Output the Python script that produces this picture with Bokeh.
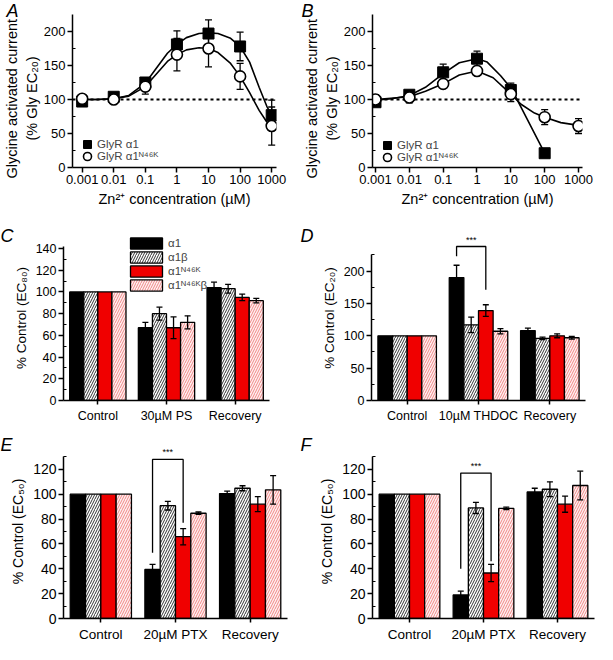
from bokeh.plotting import figure
from bokeh.models import (ColumnDataSource, Whisker, TeeHead, FixedTicker,
                          CustomJSTickFormatter, Range1d, Legend, LegendItem, Span, Title)
from bokeh.layouts import column, row
from bokeh.embed import file_html
from bokeh.resources import INLINE
from bokeh.core.properties import value

FONT = "Liberation Sans"

zn_conc = [0.001, 0.01, 0.1, 1, 10, 100, 1000]

A_wt = [97, 104, 125, 181, 197, 178, 77]
A_wt_err = [4, 3, 5, 20, 20, 21, 22]
A_mut = [101, 100, 119, 166, 175, 134, 61]
A_mut_err = [3, 5, 11, 24, 27, 19, 28]
A_fit_x = [0.001, 0.003, 0.01, 0.03, 0.1, 0.2, 0.5, 1, 2, 5, 10, 20, 50, 100, 200, 400, 700, 1000]
A_fit_wt = [100, 100, 101, 106, 124, 143, 168, 181, 191, 197, 198, 197, 190, 178, 155, 118, 90, 77]
A_fit_mut = [100, 100, 101, 105, 119, 135, 156, 166, 173, 176, 175, 169, 153, 134, 110, 84, 67, 61]

B_wt_x = [0.001, 0.01, 0.1, 1, 10, 100]
B_wt = [96, 107, 140, 160, 114, 21]
B_wt_err = [3, 4, 12, 11, 10, 2]
B_mut = [100, 103, 123, 142, 108, 74, 61]
B_mut_err = [7, 8, 6, 5, 11, 11, 11]
B_fit_wt_x = [0.001, 0.003, 0.01, 0.03, 0.1, 0.3, 1, 2, 5, 10, 12, 100]
B_fit_wt = [99, 101, 106, 118, 138, 154, 160, 155, 135, 117, 110, 21]
B_fit_mut_x = [0.001, 0.01, 0.03, 0.1, 0.3, 1, 3, 10, 20, 50, 100, 300, 1000]
B_fit_mut = [100, 104, 112, 123, 136, 142, 132, 108, 93, 80, 74, 66, 62]

zn_ticks = [0.001, 0.01, 0.1, 1, 10, 100, 1000]
resp_ticks = [0, 50, 100, 150, 200]
resp_minor = [25, 75, 125, 175]
# y-axis title lines (outer, inner) and their start offsets along the axis
zn_ylabel_lines = [("Glycine activated current", -11), ("(% Gly EC₂₀)", 27)]

series_names = ["α1", "α1β", "α1ᴺ⁴⁶ᴷ", "α1ᴺ⁴⁶ᴷβ"]

C_cats = ["Control", "30µM PS", "Recovery"]
C_vals = [[100, 67, 104], [100, 80, 103], [100, 67, 95], [100, 72, 92]]
C_errs = [[0, 5, 5], [0, 6, 4], [0, 10, 3], [0, 6, 2]]

D_cats = ["Control", "10µM THDOC", "Recovery"]
D_vals = [[100, 190, 108], [100, 117, 96], [100, 139, 100], [100, 107, 97]]
D_errs = [[0, 19, 4], [0, 12, 2], [0, 9, 3], [0, 4, 2]]
D_bracket = dict(top=238, left_end=223, right_end=171)

E_cats = ["Control", "20µM PTX", "Recovery"]
E_vals = [[100, 39.5, 100.5], [100, 90.8, 104.8], [100, 65.8, 92], [100, 84.7, 103.5]]
E_errs = [[0, 4, 2], [0, 3.5, 2], [0, 6.5, 6], [0, 1, 11.5]]
E_bracket = dict(top=128, left_end=53, right_end=77)

F_cats = ["Control", "20µM PTX", "Recovery"]
F_vals = [[100, 19, 101.8], [100, 89, 104], [100, 36.6, 92], [100, 88.6, 107]]
F_errs = [[0, 3, 3], [0, 4.5, 6], [0, 7, 6.5], [0, 1, 11.5]]
F_bracket = dict(top=117, left_end=40, right_end=46)

BW = 0.205
OFFS = [(k - 1.5) * BW for k in range(4)]
SERIES_STYLE = [
    dict(fill_color="black"),
    dict(fill_color="white", hatch_pattern="/", hatch_color="#333333", hatch_scale=5, hatch_weight=1),
    dict(fill_color="#f00000"),
    dict(fill_color="#fff0f0", hatch_pattern="/", hatch_color="#f08888", hatch_scale=5, hatch_weight=1),
]


def style_axes(p, tick_fs, lab_fs):
    for ax in p.axis:
        ax.axis_line_width = 1.5
        ax.axis_line_color = "black"
        ax.major_tick_line_width = 1.5
        ax.major_tick_line_color = "black"
        ax.minor_tick_line_width = 1.2
        ax.minor_tick_line_color = "black"
        ax.major_tick_in = 0
        ax.major_tick_out = 5
        ax.minor_tick_in = 3
        ax.minor_tick_out = 0
        ax.major_label_standoff = 2
        ax.major_label_text_font = FONT
        ax.major_label_text_font_size = tick_fs
        ax.major_label_text_color = "black"
        ax.axis_label_text_font = FONT
        ax.axis_label_text_font_size = lab_fs
        ax.axis_label_text_font_style = "normal"
        ax.axis_label_text_color = "black"
        ax.axis_label_standoff = 4
    p.xgrid.visible = False
    p.ygrid.visible = False
    p.outline_line_color = None


def set_letter(p, letter, bl, standoff):
    p.title.text = letter
    p.title.text_font = FONT
    p.title.text_font_style = "italic"
    p.title.text_font_size = "18px"
    p.title.text_color = "black"
    p.title.align = "left"
    p.title.offset = -bl
    p.title.standoff = standoff


def add_whiskers(p, xs, ys, es, level, size):
    xx, up, lo = [], [], []
    for x, y, e in zip(xs, ys, es):
        if e > 0:
            xx.append(x); up.append(y + e); lo.append(y - e)
    src = ColumnDataSource(dict(x=xx, upper=up, lower=lo))
    w = Whisker(base="x", upper="upper", lower="lower", source=src, dimension="height",
                line_width=1.3, line_color="black", level=level,
                upper_head=TeeHead(size=size, line_width=1.3, line_color="black"),
                lower_head=TeeHead(size=size, line_width=1.3, line_color="black"))
    p.add_layout(w)


def zn_panel(letter, wt_x, wt, wt_err, mut_x, mut, mut_err, fwx, fw, fmx, fm,
             w, bl, br, xr, leg_pos):
    h, bt, bb = 213, 14, 46
    p = figure(width=w, height=h, min_border_left=bl, min_border_right=br,
               min_border_top=bt, min_border_bottom=bb, x_axis_type="log",
               x_range=Range1d(*xr), y_range=Range1d(0, 225),
               output_backend="svg", toolbar_location=None)
    p.add_layout(Span(location=100, dimension="width", line_dash="3 3", line_width=1.8,
                      line_color="black", level="underlay"))
    add_whiskers(p, wt_x, wt, wt_err, "underlay", 7)
    add_whiskers(p, mut_x, mut, mut_err, "underlay", 7)
    p.line(fwx, fw, line_color="black", line_width=1.6)
    p.line(fmx, fm, line_color="black", line_width=1.6)
    sq = p.scatter(wt_x, wt, marker="square", size=11, fill_color="black", line_color="black")
    ci = p.scatter(mut_x, mut, marker="circle", size=11, fill_color="white",
                   line_color="black", line_width=1.6)
    for item, pos in ((LegendItem(label="GlyR α1", renderers=[sq]), leg_pos[0]),
                      (LegendItem(label="GlyR α1ᴺ⁴⁶ᴷ", renderers=[ci]), leg_pos[1])):
        lg = Legend(items=[item], location=pos, glyph_width=20, glyph_height=20,
                    label_height=20, label_standoff=0, padding=0, margin=0, spacing=0,
                    border_line_color=None, background_fill_alpha=0,
                    label_text_font=FONT, label_text_font_size="11.5px")
        p.add_layout(lg)
    p.xaxis.ticker = FixedTicker(ticks=zn_ticks, minor_ticks=[])
    p.xaxis.formatter = CustomJSTickFormatter(code="return tick.toString();")
    p.yaxis.ticker = FixedTicker(ticks=resp_ticks, minor_ticks=resp_minor)
    p.xaxis.axis_label = "Zn²⁺ concentration (µM)"
    style_axes(p, "13px", "14.5px")
    p.xaxis.minor_tick_line_color = None
    # two-line y-axis title, innermost line added first
    for txt, off in reversed(zn_ylabel_lines):
        p.add_layout(Title(text=txt, align="left", offset=off, text_font=FONT,
                           text_font_size="14.5px", text_font_style="normal",
                           text_color="black", standoff=2), "left")
    set_letter(p, letter, bl, -12)
    return p


def bar_panel(letter, cats, vals, errs, ylabel, w, h, bl, br, bt, bb, ymax, ytop,
              major, minor, tick_fs, cat_fs, lab_fs, title_standoff,
              bracket=None, legend=None):
    p = figure(width=w, height=h, min_border_left=bl, min_border_right=br,
               min_border_top=bt, min_border_bottom=bb,
               x_range=Range1d(0, len(cats)), y_range=Range1d(0, ymax),
               output_backend="svg", toolbar_location=None)
    centers = [i + 0.5 for i in range(len(cats))]
    rends = []
    bar_x = []
    for k, (v, e) in enumerate(zip(vals, errs)):
        xs = [c + OFFS[k] for c in centers]
        bar_x.append(xs)
        src = ColumnDataSource(dict(x=xs, top=v))
        r = p.vbar(x="x", top="top", bottom=0, width=BW, source=src,
                   line_color="black", line_width=1.3, **SERIES_STYLE[k])
        rends.append(r)
    for k, (v, e) in enumerate(zip(vals, errs)):
        add_whiskers(p, bar_x[k], v, e, "annotation", 6)
    if bracket is not None:
        xl = bar_x[0][1]
        xr = bar_x[2][1]
        p.line([xl, xl, xr, xr],
               [bracket["left_end"], bracket["top"], bracket["top"], bracket["right_end"]],
               line_color="black", line_width=1.3)
        p.text(x=[(xl + xr) / 2], y=[bracket["top"]], text=["***"], text_align="center",
               text_baseline="bottom", text_font=value(FONT), text_font_size="9px",
               y_offset=-2, text_color="black")
    if legend is not None:
        items = [LegendItem(label=n, renderers=[r]) for n, r in zip(series_names, rends)]
        lg = Legend(items=items, location=legend, glyph_width=40, glyph_height=14,
                    label_height=14, label_standoff=2, padding=0, margin=0, spacing=0,
                    border_line_color=None, background_fill_alpha=0,
                    label_text_font=FONT, label_text_font_size="11.5px")
        p.add_layout(lg)
    p.yaxis.bounds = (0, ytop)
    p.yaxis.ticker = FixedTicker(ticks=major, minor_ticks=minor)
    p.xaxis.ticker = FixedTicker(ticks=centers, minor_ticks=[])
    p.xaxis.major_label_overrides = {c: n for c, n in zip(centers, cats)}
    p.yaxis.axis_label = ylabel
    style_axes(p, tick_fs, lab_fs)
    p.xaxis.major_label_text_font_size = cat_fs
    p.xaxis.major_tick_out = 4
    p.xaxis.major_label_standoff = 4
    set_letter(p, letter, bl, title_standoff)
    return p


pA = zn_panel("A", zn_conc, A_wt, A_wt_err, zn_conc, A_mut, A_mut_err,
              A_fit_x, A_fit_wt, A_fit_x, A_fit_mut,
              w=300, bl=66, br=24, xr=(0.000495, 1419), leg_pos=[(5, 13), (5, 1)])
pB = zn_panel("B", B_wt_x, B_wt, B_wt_err, zn_conc, B_mut, B_mut_err,
              B_fit_wt_x, B_fit_wt, B_fit_mut_x, B_fit_mut,
              w=297, bl=71, br=15, xr=(0.000816, 1312), leg_pos=[(5, 12), (5, 0)])

pC = bar_panel("C", C_cats, C_vals, C_errs, "% Control (EC₈₀)", w=300, h=221, bl=63, br=31,
               bt=22, bb=34, ymax=152, ytop=142, major=list(range(0, 141, 20)),
               minor=list(range(10, 141, 20)), tick_fs="12.5px", cat_fs="12.5px",
               lab_fs="13.5px", title_standoff=-20, legend=(63, 108))
pD = bar_panel("D", D_cats, D_vals, D_errs, "% Control (EC₂₀)", w=297, h=221, bl=71, br=12,
               bt=22, bb=34, ymax=255, ytop=226, major=[0, 50, 100, 150, 200],
               minor=[25, 75, 125, 175, 225], tick_fs="12.5px", cat_fs="12.5px",
               lab_fs="13.5px", title_standoff=-20, bracket=D_bracket)
pE = bar_panel("E", E_cats, E_vals, E_errs, "% Control (EC₅₀)", w=300, h=210, bl=63, br=13,
               bt=10, bb=24, ymax=140, ytop=130, major=list(range(0, 121, 20)),
               minor=list(range(10, 131, 20)), tick_fs="14px", cat_fs="13.5px",
               lab_fs="14px", title_standoff=-20, bracket=E_bracket)
pF = bar_panel("F", F_cats, F_vals, F_errs, "% Control (EC₅₀)", w=297, h=210, bl=72, br=3,
               bt=10, bb=24, ymax=140, ytop=130, major=list(range(0, 121, 20)),
               minor=list(range(10, 131, 20)), tick_fs="14px", cat_fs="13.5px",
               lab_fs="14px", title_standoff=-20, bracket=F_bracket)

layout = column(row(pA, pB), row(pC, pD), row(pE, pF))
open("out.html", "w").write(file_html(layout, INLINE))
